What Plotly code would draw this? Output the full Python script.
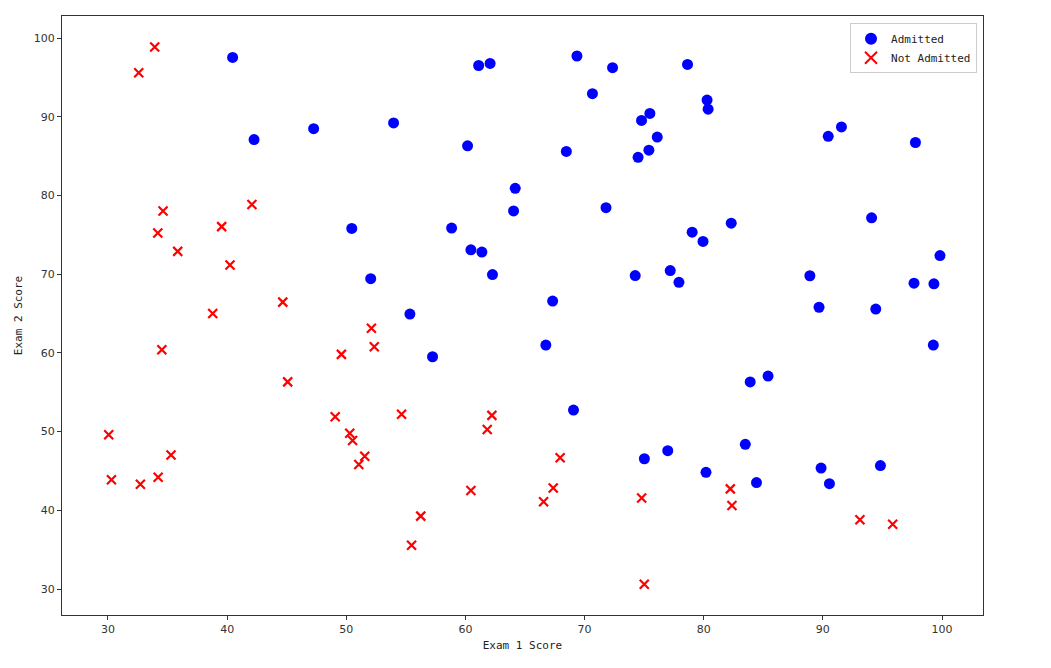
import plotly.graph_objects as go

exam1 = [34.62, 30.29, 35.85, 60.18, 79.03, 45.08, 61.11, 75.02, 76.10, 84.43,
         95.86, 75.01, 82.31, 69.36, 39.54, 53.97, 69.07, 67.95, 70.66, 76.98,
         67.37, 89.68, 50.53, 34.21, 77.92, 62.27, 80.19, 93.11, 61.83, 38.79,
         61.38, 85.40, 52.11, 52.05, 40.24, 54.64, 33.92, 64.18, 74.79, 34.18,
         83.90, 51.55, 94.44, 82.37, 51.05, 62.22, 77.19, 97.77, 62.07, 91.56,
         79.94, 99.27, 90.55, 34.52, 50.29, 49.59, 97.65, 32.58, 74.25, 71.80,
         75.40, 35.29, 56.25, 30.06, 44.67, 66.56, 40.46, 49.07, 80.28, 66.75,
         32.72, 64.04, 72.35, 60.46, 58.84, 99.83, 47.26, 50.46, 60.46, 82.23,
         88.91, 94.83, 67.32, 57.24, 80.37, 68.47, 42.08, 75.48, 78.64, 52.35,
         94.09, 90.45, 55.48, 74.49, 89.85, 83.49, 42.26, 99.32, 55.34, 74.78]
exam2 = [78.02, 43.89, 72.90, 86.31, 75.34, 56.32, 96.51, 46.55, 87.42, 43.53,
         38.23, 30.60, 76.48, 97.72, 76.04, 89.21, 52.74, 46.68, 92.93, 47.58,
         42.84, 65.80, 48.86, 44.21, 68.97, 69.95, 44.82, 38.80, 50.26, 65.00,
         72.81, 57.05, 63.13, 69.43, 71.17, 52.21, 98.87, 80.91, 41.57, 75.24,
         56.31, 46.86, 65.57, 40.62, 45.82, 52.06, 70.46, 86.73, 96.77, 88.70,
         74.16, 61.00, 43.39, 60.40, 49.80, 59.81, 68.86, 95.60, 69.82, 78.45,
         85.76, 47.02, 39.26, 49.59, 66.45, 41.09, 97.54, 51.88, 92.12, 60.99,
         43.31, 78.03, 96.23, 73.09, 75.86, 72.37, 88.48, 75.81, 42.51, 42.72,
         69.80, 45.69, 66.59, 59.51, 90.96, 85.59, 78.84, 90.42, 96.65, 60.77,
         77.16, 87.51, 35.57, 84.85, 45.36, 48.38, 87.10, 68.78, 64.93, 89.53]
admitted = [0, 0, 0, 1, 1, 0, 1, 1, 1, 1,
            0, 0, 1, 1, 0, 1, 1, 0, 1, 1,
            0, 1, 0, 0, 1, 1, 1, 0, 0, 0,
            1, 1, 0, 1, 0, 0, 0, 1, 0, 0,
            1, 0, 1, 0, 0, 0, 1, 1, 1, 1,
            1, 1, 1, 0, 0, 0, 1, 0, 1, 1,
            1, 0, 0, 0, 0, 0, 1, 0, 1, 1,
            0, 1, 1, 1, 1, 1, 1, 1, 0, 0,
            1, 1, 1, 1, 1, 1, 0, 1, 1, 0,
            1, 1, 0, 1, 1, 1, 1, 1, 1, 1]
x_ticks = [30, 40, 50, 60, 70, 80, 90, 100]
y_ticks = [30, 40, 50, 60, 70, 80, 90, 100]

pos_x = [a for a, l in zip(exam1, admitted) if l == 1]
pos_y = [b for b, l in zip(exam2, admitted) if l == 1]
neg_x = [a for a, l in zip(exam1, admitted) if l == 0]
neg_y = [b for b, l in zip(exam2, admitted) if l == 0]

mono = "DejaVu Sans Mono, monospace"
fig = go.Figure()
fig.add_trace(go.Scatter(x=pos_x, y=pos_y, mode="markers", name="Admitted",
                         marker=dict(symbol="circle", size=11, color="#0000ff",
                                     line=dict(width=0))))
fig.add_trace(go.Scatter(x=neg_x, y=neg_y, mode="markers", name="Not Admitted",
                         marker=dict(symbol="x-thin", size=9, color="#ff0000",
                                     line=dict(width=2.2, color="#ff0000"))))

axis_common = dict(showgrid=False, zeroline=False, showline=True, mirror=True,
                   linecolor="#333333", linewidth=1, ticks="outside", ticklen=4,
                   tickcolor="#333333", tickfont=dict(family="DejaVu Sans", size=11, color="#333333"))
fig.update_layout(
    width=1051, height=668,
    paper_bgcolor="white", plot_bgcolor="white",
    margin=dict(l=62, r=68, t=16, b=53),
    xaxis=dict(range=[26.14, 103.44], tickvals=x_ticks,
               title=dict(text="Exam 1 Score", font=dict(family=mono, size=11, color="#222222"), standoff=6),
               **axis_common),
    yaxis=dict(range=[26.7, 102.8], tickvals=y_ticks,
               title=dict(text="Exam 2 Score", font=dict(family=mono, size=11, color="#222222"), standoff=8),
               **axis_common),
    legend=dict(x=0.9935, y=0.988, xanchor="right", yanchor="top",
                bordercolor="#cccccc", borderwidth=1, bgcolor="rgba(255,255,255,0.8)",
                font=dict(family=mono, size=11, color="#222222"), tracegroupgap=0,
                itemsizing="constant", itemwidth=30),
    showlegend=True,
)
fig.write_html("out.html")
